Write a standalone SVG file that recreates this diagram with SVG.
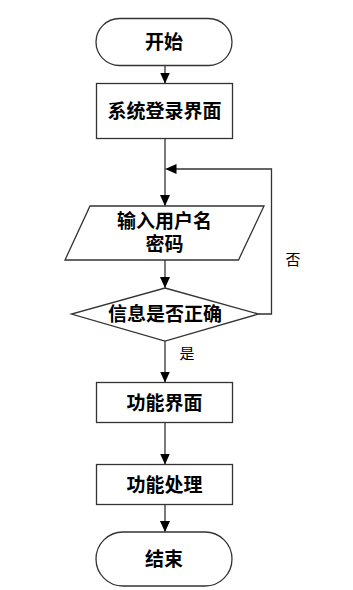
<svg xmlns="http://www.w3.org/2000/svg" width="353" height="590" viewBox="0 0 353 590">
<defs>
<marker id="ah" markerWidth="10" markerHeight="11" refX="11" refY="5" orient="auto" markerUnits="userSpaceOnUse">
<path d="M0,0 L11,5 L0,10 Z" fill="#000"/>
</marker>
<style>
.s{fill:#fff;stroke:#333;stroke-width:1.3}
.t{font-family:"Liberation Serif","Noto Sans CJK SC",serif;font-size:19px;font-weight:bold;text-anchor:middle;dominant-baseline:central;fill:#000}
.l{font-family:"Liberation Serif","Noto Sans CJK SC",serif;font-size:15px;text-anchor:middle;dominant-baseline:central;fill:#000}
.c{fill:none;stroke:#333;stroke-width:1.3;marker-end:url(#ah)}
</style>
</defs>
<rect width="353" height="590" fill="#fff"/>
<g id="start"><rect class="s" x="96" y="18.5" width="136" height="47" rx="23.5"/><text class="t" x="164" y="42">开始</text></g>
<g id="login"><rect class="s" x="96.5" y="83.5" width="136" height="55"/><text class="t" x="164.5" y="111">系统登录界面</text></g>
<g id="input"><polygon class="s" points="90,206 264,206 238.5,260 65,260"/><text class="t" x="164.5" y="221">输入用户名</text><text class="t" x="164.5" y="244">密码</text></g>
<g id="check"><polygon class="s" points="165,288 258.5,314 165,341 71.5,314"/><text class="t" x="165" y="314">信息是否正确</text></g>
<g id="func"><rect class="s" x="96.5" y="382.5" width="136" height="40"/><text class="t" x="164.5" y="403">功能界面</text></g>
<g id="proc"><rect class="s" x="96.5" y="464.5" width="136" height="40"/><text class="t" x="164.5" y="485">功能处理</text></g>
<g id="end"><rect class="s" x="96" y="532" width="136" height="54" rx="27"/><text class="t" x="164" y="559">结束</text></g>
<g id="connectors">
<path class="c" d="M165,65.5 V83.5"/>
<path class="c" d="M165,138.5 V206"/>
<path class="c" d="M258.5,314 H271.5 V169 H165.5"/>
<path class="c" d="M165,260 V288"/>
<path class="c" d="M165,341 V382.5"/>
<path class="c" d="M165,422.5 V464.5"/>
<path class="c" d="M165,504.5 V532"/>
<text class="l" x="293" y="260">否</text>
<text class="l" x="187" y="354">是</text>
</g>
</svg>
